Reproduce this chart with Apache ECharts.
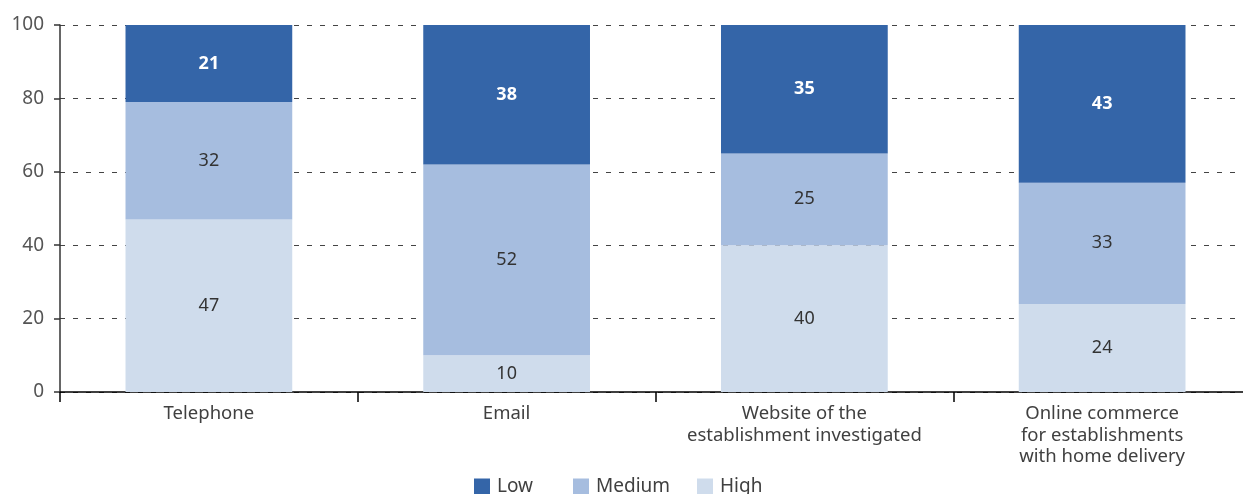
<!DOCTYPE html>
<html>
<head>
<meta charset="utf-8">
<script src="https://cdn.jsdelivr.net/npm/echarts@6/dist/echarts.min.js"></script>
<style>
    html, body { margin: 0; padding: 0; background: #fff; overflow: hidden; }
    #chart { width: 1251px; height: 494px; }
</style>
</head>
<body>
<div id="chart"></div>
<script>
var categories = ['Telephone', 'Email', 'Website of the\nestablishment investigated', 'Online commerce\nfor establishments\nwith home delivery'];
var highValues = [47, 10, 40, 24];
var mediumValues = [32, 52, 25, 33];
var lowValues = [21, 38, 35, 43];
var yTicks = [0, 20, 40, 60, 80, 100];
var legendNames = ['Low', 'Medium', 'High'];

var fontName = 'Noto Sans';
var textColor = '#404040';

var chart = echarts.init(document.getElementById('chart'));

function barSeries(name, data, color, labelColor, bold) {
    return {
        name: name,
        type: 'bar',
        stack: 'total',
        barWidth: '56%',
        data: data,
        itemStyle: { color: color },
        label: {
            show: true,
            position: 'inside',
            color: labelColor,
            fontFamily: fontName,
            fontSize: 18,
            fontWeight: bold ? 'bold' : 'normal'
        },
        emphasis: { disabled: true }
    };
}

// one legend per item so the spacing matches the original
var legendLefts = [474, 573, 697];
var legends = legendNames.map(function (name, i) {
    return {
        top: 477,
        left: legendLefts[i],
        padding: 0,
        itemWidth: 16,
        itemHeight: 16,
        itemGap: 0,
        icon: 'rect',
        data: [name],
        selectedMode: false,
        textStyle: { fontFamily: fontName, fontSize: 19, color: textColor, padding: [0, 0, 0, 2] }
    };
});

chart.setOption({
    animation: false,
    textStyle: { fontFamily: fontName },
    grid: {
        left: 60,
        top: 25,
        right: 0,
        height: 367,
        containLabel: false
    },
    legend: legends,
    xAxis: {
        type: 'category',
        data: categories,
        axisLine: { lineStyle: { color: '#000', width: 1.5 } },
        axisTick: { show: true, length: 10, lineStyle: { color: '#000', width: 1.5 } },
        axisLabel: {
            color: textColor,
            fontFamily: fontName,
            fontSize: 18.5,
            lineHeight: 21.5,
            margin: 11,
            interval: 0
        }
    },
    yAxis: {
        type: 'value',
        min: yTicks[0],
        max: yTicks[yTicks.length - 1],
        interval: 20,
        axisLine: { show: true, lineStyle: { color: '#333', width: 1.5 } },
        axisTick: { show: true, length: 6, lineStyle: { color: '#333', width: 1.5 } },
        axisLabel: { color: '#555', fontFamily: fontName, fontSize: 19, margin: 16 },
        splitLine: {
            show: true,
            lineStyle: { color: '#444', type: [5, 8], width: 1 }
        }
    },
    series: [
        barSeries('High', highValues, '#cfdcec', '#333', false),
        barSeries('Medium', mediumValues, '#a6bddf', '#333', false),
        barSeries('Low', lowValues, '#3465a8', '#fff', true)
    ]
});
</script>
</body>
</html>
